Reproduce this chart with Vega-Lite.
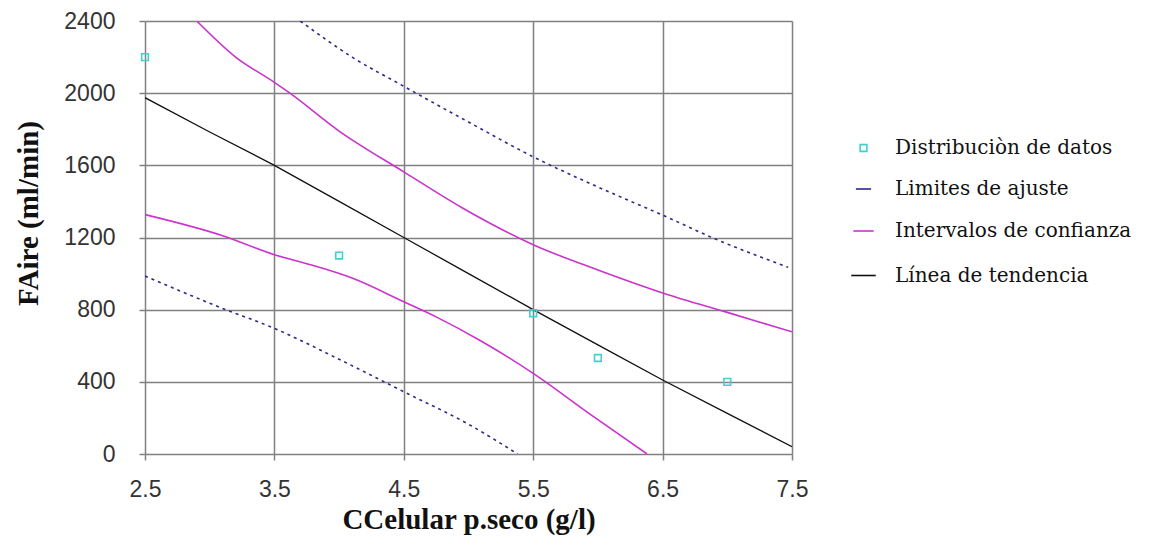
{
  "$schema": "https://vega.github.io/schema/vega-lite/v6.json",
  "autosize": "none",
  "width": 647,
  "height": 433,
  "padding": {"left": 145, "top": 21, "right": 365, "bottom": 94},
  "background": "white",
  "config": {
    "view": {"stroke": null},
    "axis": {
      "gridColor": "#808080",
      "gridWidth": 1.5,
      "gridOpacity": 1,
      "domain": false,
      "tickColor": "#808080",
      "tickWidth": 1.5,
      "tickSize": 6,
      "labelFlush": false,
      "labelFont": "Liberation Sans",
      "labelFontSize": 23,
      "labelColor": "#333333",
      "titleFont": "Liberation Serif",
      "titleFontWeight": "bold",
      "titleFontSize": 29,
      "titleColor": "#111111"
    },
    "legend": {
      "labelFont": "DejaVu Serif",
      "labelFontSize": 20,
      "labelColor": "#111111",
      "labelLimit": 0
    }
  },
  "datasets": {
    "puntos": [
      {"x": 2.5, "y": 2200, "serie": "Distribuciòn de datos"},
      {"x": 4.0, "y": 1100, "serie": "Distribuciòn de datos"},
      {"x": 5.5, "y": 780, "serie": "Distribuciòn de datos"},
      {"x": 6.0, "y": 532, "serie": "Distribuciòn de datos"},
      {"x": 7.0, "y": 400, "serie": "Distribuciòn de datos"}
    ],
    "tendencia": [
      {"x": 2.5, "y": 1975, "serie": "Línea de tendencia", "curva": "t"},
      {"x": 3.0, "y": 1785, "serie": "Línea de tendencia", "curva": "t"},
      {"x": 3.5, "y": 1600, "serie": "Línea de tendencia", "curva": "t"},
      {"x": 4.0, "y": 1400, "serie": "Línea de tendencia", "curva": "t"},
      {"x": 4.5, "y": 1200, "serie": "Línea de tendencia", "curva": "t"},
      {"x": 5.0, "y": 1000, "serie": "Línea de tendencia", "curva": "t"},
      {"x": 5.5, "y": 800, "serie": "Línea de tendencia", "curva": "t"},
      {"x": 6.0, "y": 605, "serie": "Línea de tendencia", "curva": "t"},
      {"x": 6.5, "y": 410, "serie": "Línea de tendencia", "curva": "t"},
      {"x": 7.0, "y": 225, "serie": "Línea de tendencia", "curva": "t"},
      {"x": 7.5, "y": 40, "serie": "Línea de tendencia", "curva": "t"}
    ],
    "intervalos": [
      {"x": 2.9, "y": 2400, "serie": "Intervalos de confianza", "curva": "sup"},
      {"x": 3.2, "y": 2200, "serie": "Intervalos de confianza", "curva": "sup"},
      {"x": 3.5, "y": 2060, "serie": "Intervalos de confianza", "curva": "sup"},
      {"x": 3.62, "y": 2000, "serie": "Intervalos de confianza", "curva": "sup"},
      {"x": 4.0, "y": 1790, "serie": "Intervalos de confianza", "curva": "sup"},
      {"x": 4.5, "y": 1564, "serie": "Intervalos de confianza", "curva": "sup"},
      {"x": 4.95, "y": 1365, "serie": "Intervalos de confianza", "curva": "sup"},
      {"x": 5.5, "y": 1160, "serie": "Intervalos de confianza", "curva": "sup"},
      {"x": 6.0, "y": 1020, "serie": "Intervalos de confianza", "curva": "sup"},
      {"x": 6.5, "y": 893, "serie": "Intervalos de confianza", "curva": "sup"},
      {"x": 7.0, "y": 785, "serie": "Intervalos de confianza", "curva": "sup"},
      {"x": 7.5, "y": 677, "serie": "Intervalos de confianza", "curva": "sup"},
      {"x": 2.5, "y": 1327, "serie": "Intervalos de confianza", "curva": "inf"},
      {"x": 3.1, "y": 1210, "serie": "Intervalos de confianza", "curva": "inf"},
      {"x": 3.5, "y": 1105, "serie": "Intervalos de confianza", "curva": "inf"},
      {"x": 3.75, "y": 1055, "serie": "Intervalos de confianza", "curva": "inf"},
      {"x": 4.1, "y": 975, "serie": "Intervalos de confianza", "curva": "inf"},
      {"x": 4.5, "y": 844, "serie": "Intervalos de confianza", "curva": "inf"},
      {"x": 4.75, "y": 760, "serie": "Intervalos de confianza", "curva": "inf"},
      {"x": 5.1, "y": 625, "serie": "Intervalos de confianza", "curva": "inf"},
      {"x": 5.5, "y": 447, "serie": "Intervalos de confianza", "curva": "inf"},
      {"x": 5.95, "y": 215, "serie": "Intervalos de confianza", "curva": "inf"},
      {"x": 6.38, "y": 0, "serie": "Intervalos de confianza", "curva": "inf"}
    ],
    "limites": [
      {"x": 3.7, "y": 2400, "serie": "Limites de ajuste", "curva": "sup"},
      {"x": 4.1, "y": 2200, "serie": "Limites de ajuste", "curva": "sup"},
      {"x": 4.5, "y": 2038, "serie": "Limites de ajuste", "curva": "sup"},
      {"x": 5.0, "y": 1840, "serie": "Limites de ajuste", "curva": "sup"},
      {"x": 5.5, "y": 1647, "serie": "Limites de ajuste", "curva": "sup"},
      {"x": 6.0, "y": 1480, "serie": "Limites de ajuste", "curva": "sup"},
      {"x": 6.5, "y": 1324, "serie": "Limites de ajuste", "curva": "sup"},
      {"x": 6.9, "y": 1194, "serie": "Limites de ajuste", "curva": "sup"},
      {"x": 7.47, "y": 1035, "serie": "Limites de ajuste", "curva": "sup"},
      {"x": 2.5, "y": 986, "serie": "Limites de ajuste", "curva": "inf"},
      {"x": 3.1, "y": 807, "serie": "Limites de ajuste", "curva": "inf"},
      {"x": 3.5, "y": 696, "serie": "Limites de ajuste", "curva": "inf"},
      {"x": 4.0, "y": 525, "serie": "Limites de ajuste", "curva": "inf"},
      {"x": 4.5, "y": 345, "serie": "Limites de ajuste", "curva": "inf"},
      {"x": 5.0, "y": 165, "serie": "Limites de ajuste", "curva": "inf"},
      {"x": 5.38, "y": 0, "serie": "Limites de ajuste", "curva": "inf"}
    ]
  },
  "encoding": {
    "x": {
      "field": "x", "type": "quantitative",
      "scale": {"domain": [2.5, 7.5], "nice": false, "zero": false},
      "axis": {"values": [2.5, 3.5, 4.5, 5.5, 6.5, 7.5], "format": ".1f", "labelPadding": 18, "title": "CCelular p.seco (g/l)", "titlePadding": 4}
    },
    "y": {
      "field": "y", "type": "quantitative",
      "scale": {"domain": [0, 2400], "nice": false},
      "axis": {"values": [0, 400, 800, 1200, 1600, 2000, 2400], "format": "d", "labelPadding": 24, "title": "FAire (ml/min)", "titlePadding": 20, "titleY": 192}
    }
  },
  "layer": [
    {
      "data": {"name": "limites"},
      "mark": {"type": "line", "strokeWidth": 1.6, "strokeDash": [3, 4], "clip": true, "interpolate": "monotone"},
      "encoding": {
        "detail": {"field": "curva"},
        "color": {"field": "serie", "type": "nominal"}
      }
    },
    {
      "data": {"name": "intervalos"},
      "mark": {"type": "line", "strokeWidth": 1.6, "clip": true, "interpolate": "monotone"},
      "encoding": {
        "detail": {"field": "curva"},
        "color": {"field": "serie", "type": "nominal"}
      }
    },
    {
      "data": {"name": "tendencia"},
      "mark": {"type": "line", "strokeWidth": 1.3, "clip": true},
      "encoding": {
        "color": {"field": "serie", "type": "nominal"}
      }
    },
    {
      "data": {"name": "puntos"},
      "mark": {"type": "point", "filled": false, "strokeWidth": 1.6, "opacity": 1},
      "encoding": {
        "color": {
          "field": "serie", "type": "nominal",
          "scale": {
            "domain": ["Distribuciòn de datos", "Limites de ajuste", "Intervalos de confianza", "Línea de tendencia"],
            "range": ["#3fd0d0", "#2a2a8a", "#cc33cc", "#111111"]
          },
          "legend": {
            "title": null,
            "orient": "none",
            "legendX": 705,
            "legendY": 117,
            "rowPadding": 21,
            "symbolStrokeWidth": 1.6,
            "labelOffset": 18
          }
        },
        "shape": {
          "field": "serie", "type": "nominal",
          "scale": {
            "domain": ["Distribuciòn de datos", "Limites de ajuste", "Intervalos de confianza", "Línea de tendencia"],
            "range": ["square", "stroke", "stroke", "stroke"]
          }
        },
        "size": {
          "field": "serie", "type": "nominal",
          "scale": {
            "domain": ["Distribuciòn de datos", "Limites de ajuste", "Intervalos de confianza", "Línea de tendencia"],
            "range": [45, 600, 600, 600]
          }
        }
      }
    }
  ]
}
